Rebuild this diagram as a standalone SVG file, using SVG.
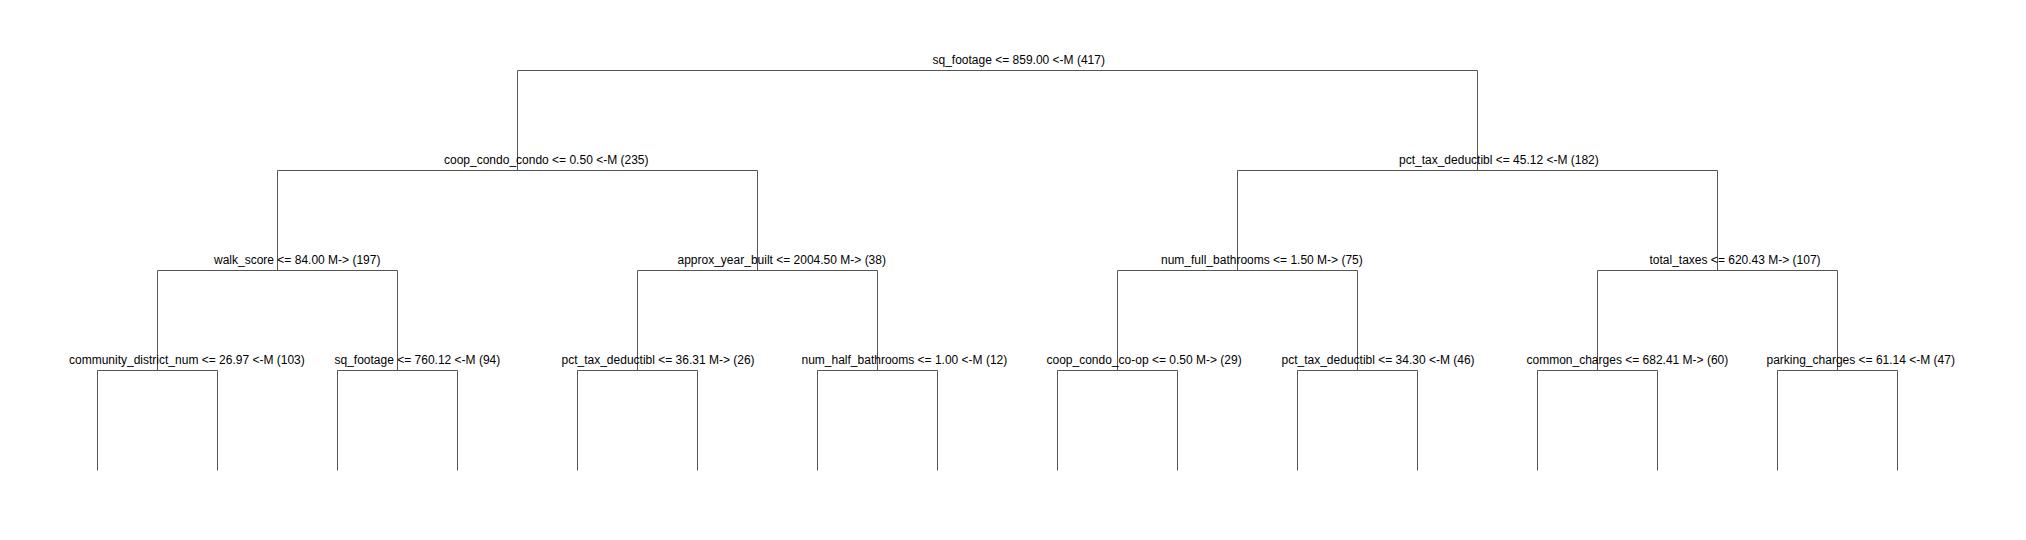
<svg xmlns="http://www.w3.org/2000/svg" width="2026" height="540" viewBox="0 0 2026 540">
<style>
.lbl{font-family:"Liberation Sans",Arial,sans-serif;font-size:12px;fill:#000}
.edge{fill:none;stroke:#555;stroke-width:1}
</style>
<rect width="2026" height="540" fill="#fff"/>
<g id="connectors">
<path class="edge" d="M517.5 170.5V70.5H1477.5V170.5"/>
<path class="edge" d="M277.5 270.5V170.5H757.5V270.5"/>
<path class="edge" d="M1237.5 270.5V170.5H1717.5V270.5"/>
<path class="edge" d="M157.5 370.5V270.5H397.5V370.5"/>
<path class="edge" d="M637.5 370.5V270.5H877.5V370.5"/>
<path class="edge" d="M1117.5 370.5V270.5H1357.5V370.5"/>
<path class="edge" d="M1597.5 370.5V270.5H1837.5V370.5"/>
<path class="edge" d="M97.5 470.5V370.5H217.5V470.5"/>
<path class="edge" d="M337.5 470.5V370.5H457.5V470.5"/>
<path class="edge" d="M577.5 470.5V370.5H697.5V470.5"/>
<path class="edge" d="M817.5 470.5V370.5H937.5V470.5"/>
<path class="edge" d="M1057.5 470.5V370.5H1177.5V470.5"/>
<path class="edge" d="M1297.5 470.5V370.5H1417.5V470.5"/>
<path class="edge" d="M1537.5 470.5V370.5H1657.5V470.5"/>
<path class="edge" d="M1777.5 470.5V370.5H1897.5V470.5"/>
</g>
<g id="n_root"><text class="lbl" x="932.5" y="64">sq_footage &lt;= 859.00 &lt;-M (417)</text></g>
<g id="n_l"><text class="lbl" x="444" y="164">coop_condo_condo &lt;= 0.50 &lt;-M (235)</text></g>
<g id="n_r"><text class="lbl" x="1399" y="164">pct_tax_deductibl &lt;= 45.12 &lt;-M (182)</text></g>
<g id="n_ll"><text class="lbl" x="214" y="264">walk_score &lt;= 84.00 M-&gt; (197)</text></g>
<g id="n_lr"><text class="lbl" x="677.5" y="264">approx_year_built &lt;= 2004.50 M-&gt; (38)</text></g>
<g id="n_rl"><text class="lbl" x="1161" y="264">num_full_bathrooms &lt;= 1.50 M-&gt; (75)</text></g>
<g id="n_rr"><text class="lbl" x="1649.5" y="264">total_taxes &lt;= 620.43 M-&gt; (107)</text></g>
<g id="n_lll"><text class="lbl" x="69" y="364">community_district_num &lt;= 26.97 &lt;-M (103)</text></g>
<g id="n_llr"><text class="lbl" x="334.5" y="364">sq_footage &lt;= 760.12 &lt;-M (94)</text></g>
<g id="n_lrl"><text class="lbl" x="561.5" y="364">pct_tax_deductibl &lt;= 36.31 M-&gt; (26)</text></g>
<g id="n_lrr"><text class="lbl" x="801.5" y="364">num_half_bathrooms &lt;= 1.00 &lt;-M (12)</text></g>
<g id="n_rll"><text class="lbl" x="1046.5" y="364">coop_condo_co-op &lt;= 0.50 M-&gt; (29)</text></g>
<g id="n_rlr"><text class="lbl" x="1281.5" y="364">pct_tax_deductibl &lt;= 34.30 &lt;-M (46)</text></g>
<g id="n_rrl"><text class="lbl" x="1526.5" y="364">common_charges &lt;= 682.41 M-&gt; (60)</text></g>
<g id="n_rrr"><text class="lbl" x="1766.5" y="364">parking_charges &lt;= 61.14 &lt;-M (47)</text></g>
</svg>
